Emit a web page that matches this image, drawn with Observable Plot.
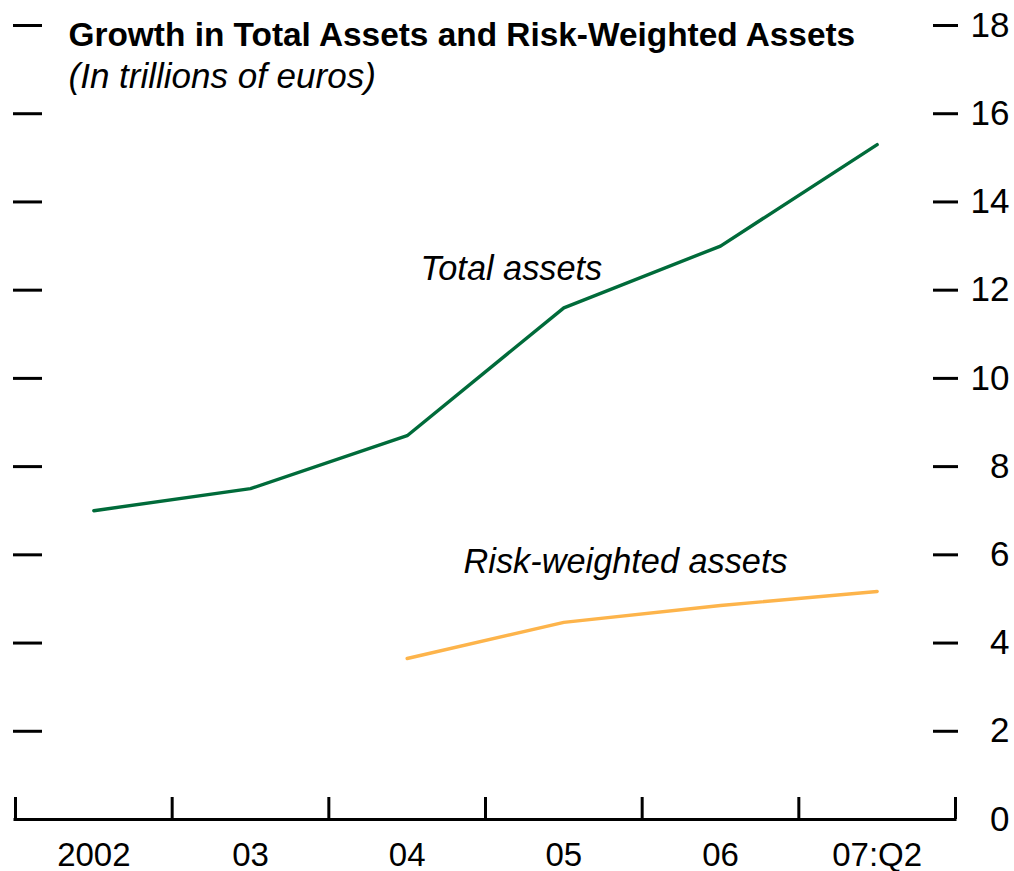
<!DOCTYPE html>
<html>
<head>
<meta charset="utf-8">
<script src="https://cdn.jsdelivr.net/npm/d3@7"></script>
<script src="https://cdn.jsdelivr.net/npm/@observablehq/plot@0.6"></script>
<style>
  html, body { margin: 0; padding: 0; background: white; }
</style>
</head>
<body>
<div id="chart"></div>
<script>
const title = "Growth in Total Assets and Risk-Weighted Assets";
const subtitle = "(In trillions of euros)";
const periods = ["2002", "03", "04", "05", "06", "07:Q2"];
const totalAssets = [7.0, 7.5, 8.7, 11.6, 13.0, 15.3];
const riskWeighted = [null, null, 3.65, 4.47, 4.85, 5.17];
const yTicks = [0, 2, 4, 6, 8, 10, 12, 14, 16, 18];
const seriesNames = ["Total assets", "Risk-weighted assets"];
const labelX = [2.585, 2.86];
const labelY = [12.24, 5.58];

const rows = [];
periods.forEach((p, i) => {
  rows.push({series: seriesNames[0], x: i + 0.5, value: totalAssets[i]});
  if (riskWeighted[i] != null) rows.push({series: seriesNames[1], x: i + 0.5, value: riskWeighted[i]});
});
const labels = seriesNames.map((s, i) => ({text: s, x: labelX[i], y: labelY[i]}));
const colors = {"Total assets": "#006b3a", "Risk-weighted assets": "#fdb44b"};

const chart = Plot.plot({
  width: 1014,
  height: 871,
  marginLeft: 15,
  marginRight: 59,
  marginTop: 25,
  marginBottom: 52,
  style: {fontFamily: "'Liberation Sans', Arial, sans-serif", fontSize: "35px", background: "white", color: "black", overflow: "visible"},
  x: {type: "linear", domain: [0, periods.length], axis: null},
  y: {domain: [0, 18], axis: null},
  marks: [
    Plot.ruleY([0], {stroke: "black", strokeWidth: 3, strokeLinecap: "square"}),
    Plot.axisX({ticks: d3.range(periods.length + 1), tickSize: -22, text: null, strokeWidth: 3, label: null}),
    Plot.axisX({ticks: periods.map((p, i) => i + 0.5), tickSize: 0, tickPadding: 23,
      tickFormat: d => periods[Math.floor(d)], fontSize: 33, label: null}),
    Plot.axisY({anchor: "left", ticks: yTicks.slice(1), tickSize: -29, dx: -2, text: null, strokeWidth: 3, label: null}),
    Plot.axisY({anchor: "right", ticks: yTicks.slice(1), tickSize: -25, dx: 2, text: null, strokeWidth: 3, label: null}),
    Plot.axisY({anchor: "right", ticks: yTicks, tickSize: 0, tickPadding: 54, textAnchor: "end", fontSize: 35, label: null}),
    Plot.line(rows, {x: "x", y: "value", z: "series", stroke: d => colors[d.series], strokeWidth: 3.4, curve: "linear"}),
    Plot.text(labels, {x: "x", y: "y", text: "text", textAnchor: "start", lineAnchor: "bottom",
      fontStyle: "italic", fontSize: 34.3, fill: "black"}),
    Plot.text([title], {frameAnchor: "top-left", dx: 53, dy: -3, lineAnchor: "top", textAnchor: "start",
      fontWeight: "bold", fontSize: 33.4, fill: "black"}),
    Plot.text([subtitle], {frameAnchor: "top-left", dx: 53, dy: 38, lineAnchor: "top", textAnchor: "start",
      fontStyle: "italic", fontSize: 35, fill: "black"})
  ]
});
document.getElementById("chart").appendChild(chart);
</script>
</body>
</html>
